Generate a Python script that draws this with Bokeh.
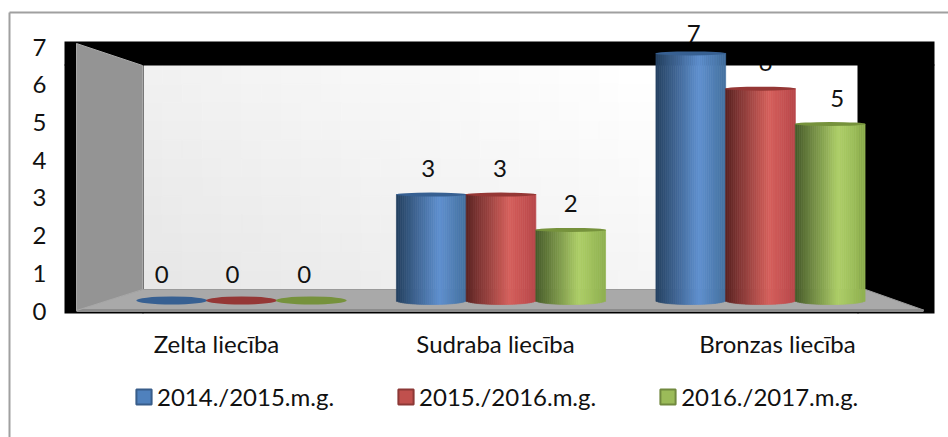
from bokeh.plotting import figure
from bokeh.models import (Range1d, LinearAxis, FixedTicker, Legend, LegendItem, ColumnDataSource)
from bokeh.core.properties import value
from bokeh.embed import file_html
from bokeh.resources import INLINE
import math

categories = ["Zelta liecība", "Sudraba liecība", "Bronzas liecība"]
series_names = ["2014./2015.m.g.", "2015./2016.m.g.", "2016./2017.m.g."]
values_2014 = [0, 3, 7]
values_2015 = [0, 3, 6]
values_2016 = [0, 2, 5]
y_ticks = [0, 1, 2, 3, 4, 5, 6, 7]

FONT = "Lato"
FS = "24px"
TXT = "#111111"
ramps = [
    [(0, "#24405f"), (0.62, "#5f90cf"), (1, "#44709f")],
    [(0, "#5a2322"), (0.62, "#d6605c"), (1, "#b8474a")],
    [(0, "#465a2a"), (0.62, "#aecf68"), (1, "#8fb04f")],
]
cap_cols = ["#376092", "#953735", "#76923c"]
edge_cols = ["#385d8a", "#8c3836", "#71893f"]
leg_cols = ["#4f81bd", "#c0504d", "#9bbb59"]


def hex2(c):
    return [int(c[i:i + 2], 16) for i in (1, 3, 5)]


def ramp(stops, t):
    for (a, ca), (b, cb) in zip(stops, stops[1:]):
        if t <= b:
            f = (t - a) / (b - a)
            r = [round(x + (y - x) * f) for x, y in zip(hex2(ca), hex2(cb))]
            return "#%02x%02x%02x" % tuple(r)
    return stops[-1][1]


W, H = 948, 437
GROUP_X0, GROUP_DX = 241.0, 259.5     # x index -> px
BASE, UNIT = 300.0, 35.3              # value -> px for the cylinders
AX0, AXU = 310.5, 37.7                # value -> px for the axis labels
FL, FB = 64, 313

p = figure(width=W, height=H, output_backend="svg", toolbar_location=None,
           x_range=Range1d((0 - GROUP_X0) / GROUP_DX, (W - GROUP_X0) / GROUP_DX),
           y_range=Range1d((BASE - H) / UNIT, BASE / UNIT),
           min_border=0, background_fill_color="white", border_fill_color="white",
           outline_line_color=None)
p.grid.visible = False
p.xaxis.visible = False
p.yaxis.visible = False

p.extra_x_ranges["px"] = Range1d(0, W)
p.extra_y_ranges["py"] = Range1d(H, 0)
p.extra_y_ranges["axis"] = Range1d((AX0 - H) / AXU, AX0 / AXU)
pk = dict(x_range_name="px", y_range_name="py")

# outer rule: only the top and left edges show
p.multi_line([[9, 9], [9, W]], [[12, H], [12, 12]], line_color="#a0a0a0", line_width=2, **pk)

# back wall with diagonal gradient
WL, WR, WT, WB = 142, 857, 65, 289
nx, ny = 36, 12
q = dict(l=[], r=[], t=[], b=[], c=[])
for i in range(nx):
    for j in range(ny):
        l = WL + (WR - WL) * i / nx
        r = WL + (WR - WL) * (i + 1) / nx
        t = WT + (WB - WT) * j / ny
        b = WT + (WB - WT) * (j + 1) / ny
        u = ((l + r) / 2 - WL) / (WR - WL)
        v = 1 - ((t + b) / 2 - WT) / (WB - WT)
        k = min(1, max(0, 0.72 * u + 0.38 * v))
        g = round(230 + 25 * min(1, k * 1.15))
        q["l"].append(l); q["r"].append(r); q["t"].append(t); q["b"].append(b)
        q["c"].append("#%02x%02x%02x" % (g, g, g))
p.quad(left="l", right="r", top="t", bottom="b", fill_color="c", line_color="c", line_width=1,
       source=ColumnDataSource(q), **pk)

n_all = [values_2014, values_2015, values_2016]

# value labels (sit under the black frame, as in the reference)
lx, ly, lt, lxo, lyo = [], [], [], [], []
xo = [[-10, -9, -7], [-3, -1, 0], [3, 5, 7]]
for c in range(3):
    for s in range(3):
        vv = n_all[s][c]
        lx.append(c + (s - 1) * 0.2686); ly.append(vv); lt.append(str(vv))
        lxo.append(xo[c][s]); lyo.append(-20 if vv == 7 else -26)
p.text(x="x", y="y", text="t", x_offset="xo", y_offset="yo",
       source=ColumnDataSource(dict(x=lx, y=ly, t=lt, xo=lxo, yo=lyo)),
       text_font=value(FONT), text_font_size=FS, text_color=TXT,
       text_align="center", text_baseline="middle")

# black region
p.quad(left=[FL, FL, WR, WL], right=[934, WL + 1, 934, WR + 1], top=[41, WT - 1, WT - 1, WB], bottom=[WT, FB, FB, FB],
       fill_color="black", line_color=None, **pk)
# floor
p.patch([76, 142, 865, 923, 923, 76], [309, 289, 289, 309.5, 310, 310], fill_color="#a9a9a9",
        line_color="#9a9a9a", line_width=1, **pk)
p.quad(left=[76], right=[923], top=[308.5], bottom=[311.5], fill_color="#8c8c8c", line_color=None, **pk)
# left wall
p.patch([76, 142, 142, 76], [43, 65, 289, 310], fill_color="#949494", line_color="#a8a8a8", line_width=1, **pk)

# cylinders as narrow strips
STRIPS = 36
BW = 0.2686
BOT = 4.0 / UNIT
for s, vals in enumerate(n_all):
    d = dict(l=[], r=[], t=[], b=[], c=[])
    for c, vv in enumerate(vals):
        if vv == 0:
            continue
        x0 = c + (s - 1.5) * BW
        for i in range(STRIPS):
            tt = (i + .5) / STRIPS
            arc = math.sqrt(max(0, 1 - (2 * tt - 1) ** 2))
            d["l"].append(x0 + BW * i / STRIPS)
            d["r"].append(x0 + BW * (i + 1) / STRIPS)
            d["t"].append(vv)
            d["b"].append(-BOT * arc)
            d["c"].append(ramp(ramps[s], tt))
    p.quad(left="l", right="r", top="t", bottom="b", fill_color="c", line_color="c", line_width=0.7,
           source=ColumnDataSource(d))
    # caps (flat discs where the value is 0)
    caps = dict(x=[c + (s - 1) * BW for c in range(3)], y=vals,
                h=[8 if v == 0 else 4 for v in vals])
    p.ellipse(x="x", y="y", width=71, height="h", width_units="screen", height_units="screen",
              fill_color=cap_cols[s], line_color=None, source=ColumnDataSource(caps))

# axes, placed at fixed spots inside the full-page frame
yax = LinearAxis(y_range_name="axis", ticker=FixedTicker(ticks=y_ticks), axis_line_color=None,
                 fixed_location=(FL - GROUP_X0) / GROUP_DX,
                 major_tick_line_color=None, minor_tick_line_color=None, major_label_standoff=12,
                 major_label_text_font=FONT, major_label_text_font_size=FS,
                 major_label_text_color=TXT)
p.add_layout(yax, "left")

label_px = [216, 495, 777]
ticks = [(x - GROUP_X0) / GROUP_DX for x in label_px]
xax = LinearAxis(ticker=FixedTicker(ticks=ticks), axis_line_color=None,
                 fixed_location=(BASE - FB) / UNIT,
                 major_tick_line_color=None, minor_tick_line_color=None, major_label_standoff=9,
                 major_label_overrides={t: c for t, c in zip(ticks, categories)},
                 major_label_text_font=FONT, major_label_text_font_size=FS,
                 major_label_text_color=TXT)
p.add_layout(xax, "below")

# legend
NAN = float("nan")
items = []
for s, nm in enumerate(series_names):
    r = p.quad(left=[NAN], right=[NAN], top=[NAN], bottom=[NAN], fill_color=leg_cols[s], line_color=edge_cols[s], line_width=2)
    items.append(LegendItem(label=nm, renderers=[r]))
leg = Legend(items=items, orientation="horizontal", location=(134, H - 411), spacing=62,
             glyph_width=19, glyph_height=19, label_standoff=4, margin=0, padding=0,
             border_line_color=None, background_fill_color=None, background_fill_alpha=0,
             label_text_font=FONT, label_text_font_size=FS, label_text_color=TXT)
p.add_layout(leg)

open("out.html", "w").write(file_html(p, INLINE))
